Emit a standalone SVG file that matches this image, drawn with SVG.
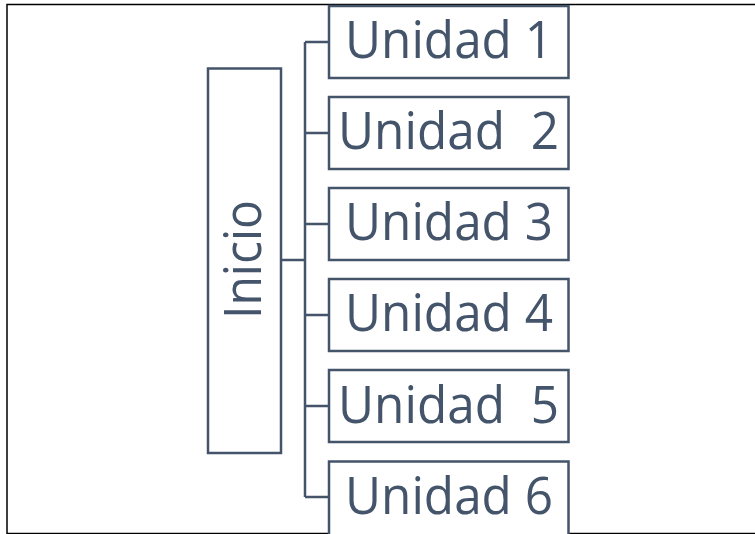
<svg xmlns="http://www.w3.org/2000/svg" width="755" height="534" viewBox="0 0 755 534">
<style>
.box{fill:#fff;stroke:#44546A;stroke-width:2.5}
.lbl{font-family:"Open Sans","Liberation Sans",sans-serif;font-size:51px;fill:#44546A}
.con{fill:none;stroke:#44546A;stroke-width:2.5}
</style>
<rect x="0" y="0" width="755" height="534" fill="#fff"/>
<rect x="7" y="4.5" width="770" height="529" fill="none" stroke="#000" stroke-width="1.5"/>
<g id="connectors">
<path class="con" d="M281 260H305M305 42V497M305 42H329M305 133H329M305 224H329M305 315H329M305 406H329M305 497H329"/>
</g>
<g id="inicio">
<rect class="box" x="208" y="68.5" width="73" height="384.5"/>
<text class="lbl" transform="translate(260.5,259.5) rotate(-90)" text-anchor="middle" textLength="119" lengthAdjust="spacingAndGlyphs">Inicio</text>
</g>
<g id="unidad1">
<rect class="box" x="329" y="6" width="239.5" height="72"/>
<text class="lbl" x="345" y="57.5" textLength="208" lengthAdjust="spacingAndGlyphs">Unidad 1</text>
</g>
<g id="unidad2">
<rect class="box" x="329" y="97" width="239.5" height="72"/>
<text class="lbl" x="338" y="149" textLength="221" lengthAdjust="spacingAndGlyphs" xml:space="preserve">Unidad  2</text>
</g>
<g id="unidad3">
<rect class="box" x="329" y="188" width="239.5" height="72"/>
<text class="lbl" x="345" y="240" textLength="208" lengthAdjust="spacingAndGlyphs">Unidad 3</text>
</g>
<g id="unidad4">
<rect class="box" x="329" y="279" width="239.5" height="72"/>
<text class="lbl" x="345" y="331" textLength="208" lengthAdjust="spacingAndGlyphs">Unidad 4</text>
</g>
<g id="unidad5">
<rect class="box" x="329" y="370" width="239.5" height="72"/>
<text class="lbl" x="338" y="422.5" textLength="221" lengthAdjust="spacingAndGlyphs" xml:space="preserve">Unidad  5</text>
</g>
<g id="unidad6">
<rect class="box" x="329" y="461.5" width="239.5" height="80"/>
<text class="lbl" x="345" y="514" textLength="208" lengthAdjust="spacingAndGlyphs">Unidad 6</text>
</g>
</svg>
